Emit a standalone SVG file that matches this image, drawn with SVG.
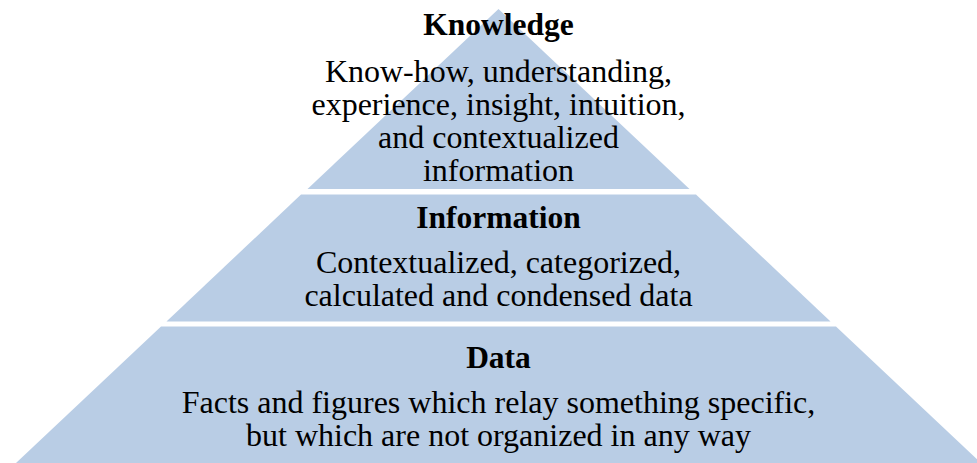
<svg xmlns="http://www.w3.org/2000/svg" width="977" height="463" viewBox="0 0 977 463">
  <style>
    .tier { fill: #b9cde5; }
    text { font-family: "Liberation Serif", "Times New Roman", serif; fill: #000; text-anchor: middle; }
    .title { font-size: 31.5px; font-weight: bold; }
    .body { font-size: 32px; }
  </style>
  <rect width="977" height="463" fill="#ffffff"/>

  <!-- Top tier: knowledge -->
  <g id="knowledge">
    <polygon class="tier" points="498.5,9 689.5,189 307.5,189"/>
    <text class="title" x="498.5" y="35">Knowledge</text>
    <text class="body" x="498.5" y="82">Know-how, understanding,</text>
    <text class="body" x="498.5" y="115">experience, insight, intuition,</text>
    <text class="body" x="498.5" y="148">and contextualized</text>
    <text class="body" x="498.5" y="181">information</text>
  </g>

  <!-- Middle tier: information -->
  <g id="information">
    <polygon class="tier" points="301,194.5 696,194.5 830.5,321.5 166.5,321.5"/>
    <text class="title" x="498.5" y="228">Information</text>
    <text class="body" x="498.5" y="273">Contextualized, categorized,</text>
    <text class="body" x="498.5" y="306">calculated and condensed data</text>
  </g>

  <!-- Bottom tier: data -->
  <g id="data">
    <polygon class="tier" points="161,326.5 836,326.5 981,463 16,463"/>
    <text class="title" x="498.5" y="368">Data</text>
    <text class="body" x="498.5" y="413">Facts and figures which relay something specific,</text>
    <text class="body" x="498.5" y="446">but which are not organized in any way</text>
  </g>

  <g id="connectors"/>
</svg>
